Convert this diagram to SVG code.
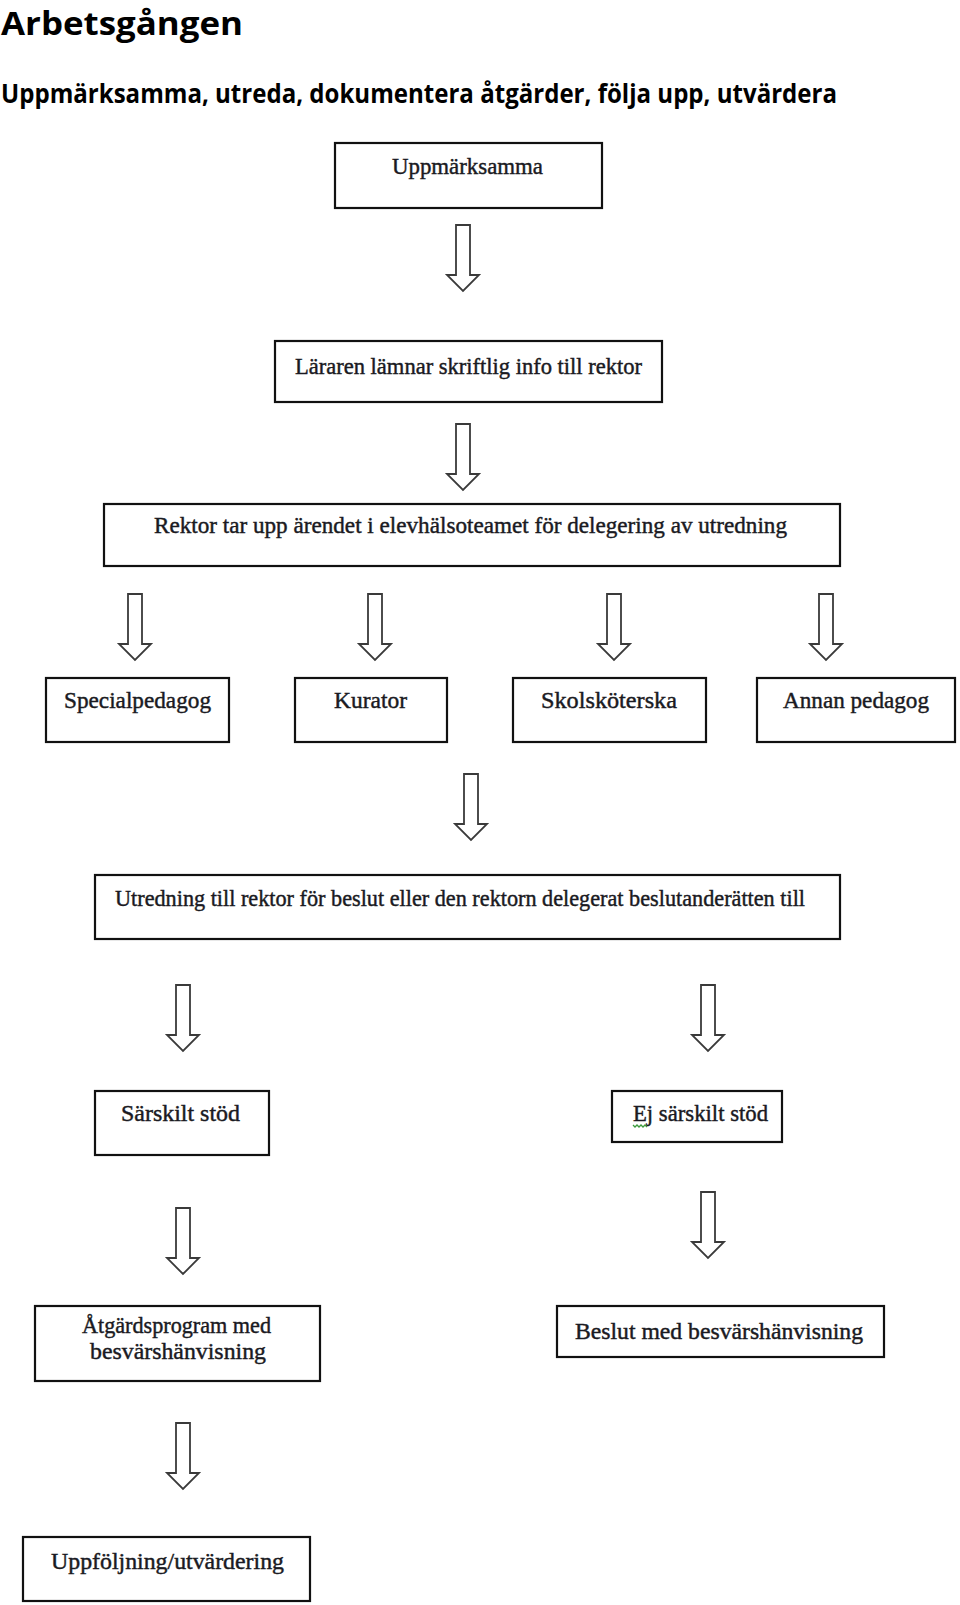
<svg xmlns="http://www.w3.org/2000/svg" xmlns:xlink="http://www.w3.org/1999/xlink" width="960" height="1605" viewBox="0 0 960 1605">
<style>
.bg{fill:#ffffff}
.box{fill:#ffffff;stroke:#111111;stroke-width:2.2}
.lbl{font-family:"Liberation Serif","Times New Roman",serif;font-size:24px;fill:#1a1a22;stroke:#1a1a22;stroke-width:0.45}
.h1{font-family:"Open Sans","Liberation Sans",Arial,sans-serif;font-weight:bold;font-size:33px;fill:#000}
.h2{font-family:"Open Sans","Liberation Sans",Arial,sans-serif;font-weight:bold;font-size:27px;fill:#000}
.arr{fill:#ffffff;stroke:#3a3a3a;stroke-width:1.8;stroke-linejoin:miter}
</style>
<defs>
<path id="downArrow" class="arr" d="M-7,0 H7 V50 H16 L0,66 L-16,50 H-7 Z"/>
</defs>
<rect class="bg" x="0" y="0" width="960" height="1605"/>

<g id="heading">
<text class="h1" x="1" y="35" textLength="242" lengthAdjust="spacingAndGlyphs">Arbetsgången</text>
<text class="h2" x="1" y="103" textLength="836" lengthAdjust="spacingAndGlyphs">Uppmärksamma, utreda, dokumentera åtgärder, följa upp, utvärdera</text>
</g>

<g id="connectors">
<use xlink:href="#downArrow" x="463" y="225"/>
<use xlink:href="#downArrow" x="463" y="424"/>
<use xlink:href="#downArrow" x="135" y="594"/>
<use xlink:href="#downArrow" x="375" y="594"/>
<use xlink:href="#downArrow" x="614" y="594"/>
<use xlink:href="#downArrow" x="826" y="594"/>
<use xlink:href="#downArrow" x="471" y="774"/>
<use xlink:href="#downArrow" x="183" y="985"/>
<use xlink:href="#downArrow" x="708" y="985"/>
<use xlink:href="#downArrow" x="183" y="1208"/>
<use xlink:href="#downArrow" x="708" y="1192"/>
<use xlink:href="#downArrow" x="183" y="1423"/>
</g>

<g id="n-uppmarksamma">
<rect class="box" x="335" y="143" width="267" height="65"/>
<text class="lbl" x="392" y="174" textLength="151" lengthAdjust="spacingAndGlyphs">Uppmärksamma</text>
</g>

<g id="n-lararen">
<rect class="box" x="275" y="341" width="387" height="61"/>
<text class="lbl" x="295" y="374" textLength="347" lengthAdjust="spacingAndGlyphs">Läraren lämnar skriftlig info till rektor</text>
</g>

<g id="n-rektor">
<rect class="box" x="104" y="504" width="736" height="62"/>
<text class="lbl" x="154" y="533" textLength="633" lengthAdjust="spacingAndGlyphs">Rektor tar upp ärendet i elevhälsoteamet för delegering av utredning</text>
</g>

<g id="n-specialpedagog">
<rect class="box" x="46" y="678" width="183" height="64"/>
<text class="lbl" x="64" y="708" textLength="147" lengthAdjust="spacingAndGlyphs">Specialpedagog</text>
</g>

<g id="n-kurator">
<rect class="box" x="295" y="678" width="152" height="64"/>
<text class="lbl" x="334" y="708" textLength="73" lengthAdjust="spacingAndGlyphs">Kurator</text>
</g>

<g id="n-skolskoterska">
<rect class="box" x="513" y="678" width="193" height="64"/>
<text class="lbl" x="541" y="708" textLength="136" lengthAdjust="spacingAndGlyphs">Skolsköterska</text>
</g>

<g id="n-annan">
<rect class="box" x="757" y="678" width="198" height="64"/>
<text class="lbl" x="783" y="708" textLength="146" lengthAdjust="spacingAndGlyphs">Annan pedagog</text>
</g>

<g id="n-utredning">
<rect class="box" x="95" y="875" width="745" height="64"/>
<text class="lbl" x="115" y="906" textLength="690" lengthAdjust="spacingAndGlyphs">Utredning till rektor för beslut eller den rektorn delegerat beslutanderätten till</text>
</g>

<g id="n-sarskilt">
<rect class="box" x="95" y="1091" width="174" height="64"/>
<text class="lbl" x="121" y="1121" textLength="119" lengthAdjust="spacingAndGlyphs">Särskilt stöd</text>
</g>

<g id="n-ej-sarskilt">
<rect class="box" x="612" y="1091" width="170" height="51"/>
<text class="lbl" x="633" y="1121" textLength="135" lengthAdjust="spacingAndGlyphs">Ej särskilt stöd</text>
<path d="M633,1125 l2,2 l2,-2 l2,2 l2,-2 l2,2 l2,-2 l2,2" fill="none" stroke="#3c9a3c" stroke-width="1.3"/>
</g>

<g id="n-atgardsprogram">
<rect class="box" x="35" y="1306" width="285" height="75"/>
<text class="lbl" x="82" y="1333" textLength="189" lengthAdjust="spacingAndGlyphs">Åtgärdsprogram med</text>
<text class="lbl" x="90" y="1359" textLength="176" lengthAdjust="spacingAndGlyphs">besvärshänvisning</text>
</g>

<g id="n-beslut">
<rect class="box" x="557" y="1306" width="327" height="51"/>
<text class="lbl" x="575" y="1339" textLength="288" lengthAdjust="spacingAndGlyphs">Beslut med besvärshänvisning</text>
</g>

<g id="n-uppfoljning">
<rect class="box" x="23" y="1537" width="287" height="64"/>
<text class="lbl" x="51" y="1569" textLength="233" lengthAdjust="spacingAndGlyphs">Uppföljning/utvärdering</text>
</g>
</svg>
